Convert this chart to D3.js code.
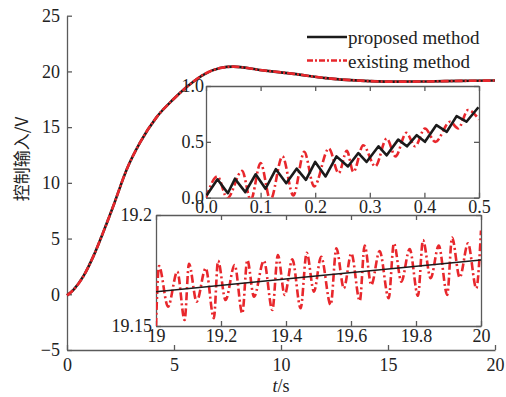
<!DOCTYPE html>
<html>
<head>
<meta charset="utf-8">
<script src="https://cdn.jsdelivr.net/npm/d3@7"></script>
<style>
  body { margin: 0; background: #fff; }
  svg { display: block; }
  text { font-family: "Liberation Serif", "Times New Roman", serif; fill: #222; }
</style>
</head>
<body>
<svg id="chart" width="506" height="397"></svg>
<script>
// ---------- data ----------
const mainXTicks = [0, 5, 10, 15, 20];
const mainYTicks = [-5, 0, 5, 10, 15, 20, 25];
const mainT = [0, 0.3, 0.76, 1.23, 1.7, 2.16, 2.79, 3.41, 4.19, 4.97, 5.59, 6.37, 7.15, 7.77, 9.0, 10.6, 12.1, 13.7, 15.2, 16.8, 18.4, 20];
const mainProposed = [-0.1, 0.4, 1.6, 3.4, 5.6, 7.9, 11.2, 13.6, 15.9, 17.5, 18.6, 19.7, 20.3, 20.43, 20.13, 19.78, 19.4, 19.17, 19.08, 19.1, 19.15, 19.18];
const mainExisting = [-0.1, 0.4, 1.6, 3.4, 5.6, 7.9, 11.2, 13.6, 15.9, 17.5, 18.6, 19.7, 20.3, 20.43, 20.13, 19.78, 19.4, 19.17, 19.08, 19.1, 19.15, 19.18];

const zoomAXTicks = [0, 0.1, 0.2, 0.3, 0.4, 0.5];
const zoomAYTicks = [0, 0.5, 1.0];
const zoomAProposedT = [0.001, 0.021, 0.040, 0.053, 0.072, 0.091, 0.109, 0.128, 0.147, 0.166, 0.183, 0.2, 0.219, 0.239, 0.26, 0.279, 0.294, 0.316, 0.331, 0.352, 0.368, 0.386, 0.401, 0.422, 0.441, 0.459, 0.477, 0.499];
const zoomAProposedV = [0.02, 0.165, 0.04, 0.17, 0.05, 0.21, 0.08, 0.255, 0.13, 0.26, 0.16, 0.32, 0.19, 0.37, 0.28, 0.40, 0.32, 0.46, 0.38, 0.52, 0.46, 0.56, 0.50, 0.65, 0.59, 0.73, 0.68, 0.81];
const zoomAExistingT = [0.0, 0.021, 0.039, 0.066, 0.082, 0.10, 0.118, 0.14, 0.16, 0.18, 0.198, 0.225, 0.243, 0.258, 0.27, 0.288, 0.31, 0.331, 0.347, 0.367, 0.383, 0.401, 0.42, 0.447, 0.462, 0.48, 0.50];
const zoomAExistingV = [0.0, 0.19, -0.005, 0.24, -0.02, 0.31, -0.02, 0.37, 0.02, 0.41, 0.10, 0.44, 0.22, 0.42, 0.23, 0.47, 0.28, 0.53, 0.37, 0.58, 0.46, 0.62, 0.50, 0.68, 0.62, 0.785, 0.70];

const zoomBXTicks = [19, 19.2, 19.4, 19.6, 19.8, 20];
const zoomBYTicks = [19.15, 19.2];
const zoomBProposedT = [19, 19.5, 20];
const zoomBProposedV = [19.1654, 19.1726, 19.1797];
const zoomBExistingT = [19.0, 19.0092, 19.037, 19.0656, 19.088, 19.1015, 19.125, 19.153, 19.178, 19.191, 19.214, 19.242, 19.2655, 19.281, 19.3015, 19.332, 19.358, 19.375, 19.396, 19.4195, 19.445, 19.4637, 19.486, 19.508, 19.5375, 19.555, 19.578, 19.601, 19.627, 19.642, 19.6625, 19.688, 19.716, 19.732, 19.755, 19.7805, 19.806, 19.8215, 19.845, 19.87, 19.896, 19.911, 19.9345, 19.96, 19.9855, 20.0];
const zoomBExistingV = [19.150, 19.177, 19.1587, 19.1745, 19.1527, 19.178, 19.161, 19.176, 19.1535, 19.1794, 19.1617, 19.1775, 19.1557, 19.1797, 19.1632, 19.1794, 19.1572, 19.182, 19.164, 19.180, 19.158, 19.183, 19.1655, 19.1812, 19.1595, 19.185, 19.167, 19.1827, 19.1613, 19.1862, 19.1685, 19.1838, 19.1625, 19.1872, 19.170, 19.1847, 19.1636, 19.1887, 19.1715, 19.1862, 19.164, 19.1898, 19.1718, 19.1872, 19.167, 19.193];

const legendLabels = ["proposed method", "existing method"];

// ---------- styles ----------
const RED = "#e8272c", BLACK = "#1b1b1b", AXIS = "#5a5a5a";
const FONT = 18;
const svg = d3.select("#chart");

function zip(t, v) { return t.map((d, i) => [d, v[i]]); }

// ---------- main axes ----------
const x = d3.scaleLinear().domain([0, 20]).range([67, 495]);
const y = d3.scaleLinear().domain([-5, 25]).range([350, 15.7]);

const gx = svg.append("g").attr("transform", `translate(0,${y(-5)})`)
  .call(d3.axisBottom(x).tickValues(mainXTicks).tickSizeInner(-5).tickSizeOuter(0).tickPadding(8));
const gy = svg.append("g").attr("transform", `translate(${x(0)},0)`)
  .call(d3.axisLeft(y).tickValues(mainYTicks).tickSizeInner(-5).tickSizeOuter(0).tickPadding(7));
[gx, gy].forEach(g => {
  g.selectAll("path,line").attr("stroke", AXIS).attr("stroke-width", 1.3);
  g.selectAll("text").style("font-size", FONT + "px").style("font-family", "Liberation Serif").attr("fill", "#222");
});

const mainLine = d3.line().x(d => x(d[0])).y(d => y(d[1])).curve(d3.curveMonotoneX);
svg.append("path").datum(zip(mainT, mainProposed)).attr("d", mainLine)
  .attr("fill", "none").attr("stroke", BLACK).attr("stroke-width", 2.6);
svg.append("path").datum(zip(mainT, mainExisting)).attr("d", mainLine)
  .attr("fill", "none").attr("stroke", RED).attr("stroke-width", 2.6).attr("stroke-dasharray", "8,2,2,2");

// axis labels
svg.append("text").attr("transform", "translate(28,159) rotate(-90)")
  .attr("text-anchor", "middle").style("font-size", "17px")
  .style("font-family", "'Noto Sans CJK SC', sans-serif")
  .text("控制输入/V");
const xl = svg.append("text").attr("x", 281).attr("y", 392).attr("text-anchor", "middle").style("font-size", FONT + "px");
xl.append("tspan").style("font-style", "italic").text("t");
xl.append("tspan").text("/s");

// legend
const legend = svg.append("g");
legendLabels.forEach((lab, i) => {
  const ly = 37 + i * 23.5;
  legend.append("line").attr("x1", 307).attr("x2", 347).attr("y1", ly).attr("y2", ly)
    .attr("stroke", i === 0 ? BLACK : RED).attr("stroke-width", 2.6)
    .attr("stroke-dasharray", i === 0 ? null : "6,2,2,2");
  legend.append("text").attr("x", 348).attr("y", ly + 7).style("font-size", "19px").text(lab);
});

// ---------- inset builder ----------
function inset(opts) {
  const { xd, yd, xr, yr, xt, yt, xfmt, yfmt, id, xpad, ypad } = opts;
  const sx = d3.scaleLinear().domain(xd).range(xr);
  const sy = d3.scaleLinear().domain(yd).range(yr);
  const g = svg.append("g");
  g.append("rect").attr("x", xr[0]).attr("y", yr[1]).attr("width", xr[1] - xr[0]).attr("height", yr[0] - yr[1])
    .attr("fill", "#fff");
  g.append("clipPath").attr("id", id).append("rect")
    .attr("x", xr[0]).attr("y", yr[1]).attr("width", xr[1] - xr[0]).attr("height", yr[0] - yr[1]);
  const axes = [
    g.append("g").attr("transform", `translate(0,${yr[0]})`).call(d3.axisBottom(sx).tickValues(xt).tickFormat(xfmt).tickSizeInner(-5).tickSizeOuter(0).tickPadding(xpad)),
    g.append("g").attr("transform", `translate(0,${yr[1]})`).call(d3.axisTop(sx).tickValues(xt).tickFormat("").tickSizeInner(-5).tickSizeOuter(0)),
    g.append("g").attr("transform", `translate(${xr[0]},0)`).call(d3.axisLeft(sy).tickValues(yt).tickFormat(yfmt).tickSizeInner(-5).tickSizeOuter(0).tickPadding(ypad)),
    g.append("g").attr("transform", `translate(${xr[1]},0)`).call(d3.axisRight(sy).tickValues(yt).tickFormat("").tickSizeInner(-5).tickSizeOuter(0))
  ];
  axes.forEach(a => {
    a.selectAll("path,line").attr("stroke", AXIS).attr("stroke-width", 1.3);
    a.selectAll("text").style("font-size", FONT + "px").style("font-family", "Liberation Serif").attr("fill", "#222");
  });
  const plot = g.append("g").attr("clip-path", `url(#${id})`);
  return { sx, sy, plot };
}

// inset A (0 - 0.5 s)
const A = inset({ xd: [0, 0.5], yd: [0, 1], xr: [206, 479], yr: [197.7, 86], xt: zoomAXTicks, yt: zoomAYTicks,
  xfmt: d3.format(".1f"), yfmt: d3.format(".1f"), id: "clipA", xpad: 3, ypad: 2 });
const lineA = d3.line().x(d => A.sx(d[0])).y(d => A.sy(d[1]));
A.plot.append("path").datum(zip(zoomAExistingT, zoomAExistingV)).attr("d", lineA.curve(d3.curveMonotoneX))
  .attr("fill", "none").attr("stroke", RED).attr("stroke-width", 2.6).attr("stroke-dasharray", "8,3,2,3");
A.plot.append("path").datum(zip(zoomAProposedT, zoomAProposedV)).attr("d", d3.line().x(d => A.sx(d[0])).y(d => A.sy(d[1])))
  .attr("fill", "none").attr("stroke", BLACK).attr("stroke-width", 2.6).attr("stroke-linejoin", "round");

// inset B (19 - 20 s)
const B = inset({ xd: [19, 20], yd: [19.15, 19.2], xr: [156, 481], yr: [326, 215], xt: zoomBXTicks, yt: zoomBYTicks,
  xfmt: d => String(+d.toFixed(1)), yfmt: d => String(+d.toFixed(2)), id: "clipB", xpad: 3, ypad: 4 });
const lineB = d3.line().x(d => B.sx(d[0])).y(d => B.sy(d[1])).curve(d3.curveMonotoneX);
B.plot.append("path").datum(zip(zoomBExistingT, zoomBExistingV)).attr("d", lineB)
  .attr("fill", "none").attr("stroke", RED).attr("stroke-width", 2.6).attr("stroke-dasharray", "8,3,2,3");
B.plot.append("path").datum(zip(zoomBProposedT, zoomBProposedV)).attr("d", d3.line().x(d => B.sx(d[0])).y(d => B.sy(d[1])))
  .attr("fill", "none").attr("stroke", BLACK).attr("stroke-width", 1.6);
</script>
</body>
</html>
